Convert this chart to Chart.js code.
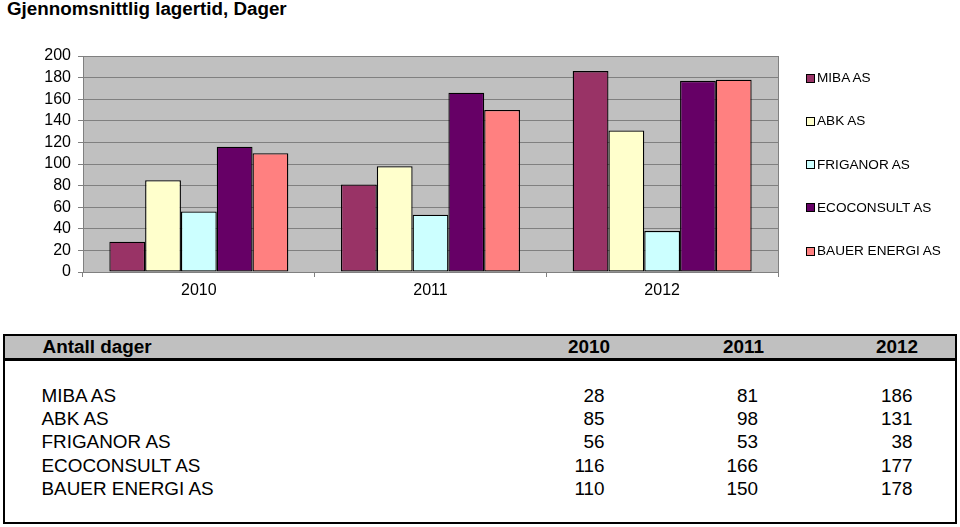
<!DOCTYPE html>
<html>
<head>
<meta charset="utf-8">
<script src="https://cdn.jsdelivr.net/npm/chart.js@4.4.1/dist/chart.umd.min.js"></script>
<style>
  html,body{margin:0;padding:0;background:#fff;}
  #wrap{position:relative;width:960px;height:527px;overflow:hidden;font-family:"Liberation Sans",Arial,Helvetica,sans-serif;color:#000;}
  #title{position:absolute;left:7px;top:-2.5px;font-weight:bold;font-size:18.8px;line-height:22px;white-space:nowrap;}
  #chart{position:absolute;left:0;top:0;}
  .legbox{position:absolute;width:7px;height:7px;border:1px solid #000;}
  .legtxt{position:absolute;font-size:13.6px;line-height:16px;white-space:nowrap;}
  .tbox{position:absolute;left:3px;top:334px;width:954px;height:190px;border:2px solid #000;box-sizing:border-box;}
  .thead{position:absolute;left:5px;top:336px;width:950px;height:22px;background:#c0c0c0;}
  .tline{position:absolute;left:3px;top:358px;width:954px;height:3px;background:#000;}
  .tt{position:absolute;font-size:18.9px;line-height:22px;white-space:nowrap;}
  .tb{font-weight:bold;}
  .tr{text-align:right;width:120px;}
</style>
</head>
<body>
<div id="wrap">
  <div id="title"></div>
  <canvas id="chart" width="960" height="310"></canvas>
  <div id="legend"></div>
  <div class="tbox"></div>
  <div class="thead"></div>
  <div class="tline"></div>
  <div id="table"></div>
</div>
<script>
// ---- data ----
const chartTitle = 'Gjennomsnittlig lagertid, Dager';
const years = ['2010', '2011', '2012'];
const companies = ['MIBA AS', 'ABK AS', 'FRIGANOR AS', 'ECOCONSULT AS', 'BAUER ENERGI AS'];
const miba = [28, 81, 186];
const abk = [85, 98, 131];
const friganor = [56, 53, 38];
const ecoconsult = [116, 166, 177];
const bauer = [110, 150, 178];
const yTicks = [0, 20, 40, 60, 80, 100, 120, 140, 160, 180, 200];
const tableHeader = 'Antall dager';

// ---- styles ----
const seriesValues = [miba, abk, friganor, ecoconsult, bauer];
const seriesColors = ['#993366', '#FFFFCC', '#CCFFFF', '#660066', '#FF8080'];
const FONT = '"Liberation Sans", Arial, Helvetica, sans-serif';

document.getElementById('title').textContent = chartTitle;

const plotBg = {
  id: 'plotBg',
  beforeDraw(chart) {
    const {ctx, chartArea: {left, top, right, bottom}} = chart;
    ctx.save();
    ctx.fillStyle = '#C0C0C0';
    ctx.fillRect(left, top, right - left, bottom - top);
    ctx.strokeStyle = '#808080';
    ctx.lineWidth = 1;
    ctx.beginPath();
    ctx.moveTo(Math.round(right) + 0.5, top);
    ctx.lineTo(Math.round(right) + 0.5, bottom);
    ctx.stroke();
    ctx.restore();
  }
};

new Chart(document.getElementById('chart'), {
  type: 'bar',
  data: {
    labels: years,
    datasets: companies.map((name, i) => ({
      label: name,
      data: seriesValues[i],
      backgroundColor: seriesColors[i],
      borderColor: '#000',
      borderWidth: 1.3,
      borderSkipped: false,
      categoryPercentage: 0.7726,
      barPercentage: 1.0
    }))
  },
  options: {
    responsive: false,
    animation: false,
    events: [],
    layout: {padding: {top: 56, left: 10, right: 182, bottom: 0}},
    plugins: {
      legend: {display: false},
      tooltip: {enabled: false},
      title: {display: false}
    },
    scales: {
      x: {
        grid: {display: true, drawOnChartArea: false, drawTicks: true, tickLength: 5, color: '#808080', offset: true},
        border: {display: true, color: '#808080'},
        ticks: {color: '#000', font: {family: FONT, size: 16}, padding: 4, maxRotation: 0},
        afterFit(s) { s.height = 38; }
      },
      y: {
        min: 0, max: 200,
        afterBuildTicks(s) { s.ticks = yTicks.map(v => ({value: v})); },
        grid: {color: '#808080', tickLength: 5, drawTicks: true},
        border: {display: true, color: '#808080'},
        ticks: {color: '#000', font: {family: FONT, size: 16}, padding: 7, autoSkip: false},
        afterFit(s) { s.width = 73; }
      }
    }
  },
  plugins: [plotBg]
});

// ---- legend (HTML) ----
const legend = document.getElementById('legend');
companies.forEach((name, i) => {
  const cy = 78 + i * 43.25;
  const b = document.createElement('div');
  b.className = 'legbox';
  b.style.left = '806px';
  b.style.top = (cy - 4.5) + 'px';
  b.style.background = seriesColors[i];
  legend.appendChild(b);
  const t = document.createElement('div');
  t.className = 'legtxt';
  t.style.left = '817px';
  t.style.top = (cy - 8) + 'px';
  t.textContent = name;
  legend.appendChild(t);
});

// ---- table (HTML) ----
const table = document.getElementById('table');
function addText(txt, x, cy, bold, right) {
  const d = document.createElement('div');
  d.className = 'tt' + (bold ? ' tb' : '') + (right ? ' tr' : '');
  d.style.left = (right ? x - 120 : x) + 'px';
  d.style.top = (cy - 11) + 'px';
  d.textContent = txt;
  table.appendChild(d);
}
const headRight = [610, 764, 918];
const numRight = [604.5, 758, 912.5];
addText(tableHeader, 42.5, 346.7, true, false);
years.forEach((y, j) => addText(y, headRight[j], 346.7, true, true));
companies.forEach((name, i) => {
  const cy = 396 + i * 23.2;
  addText(name, 41.5, cy, false, false);
  seriesValues[i].forEach((v, j) => addText(String(v), numRight[j], cy, false, true));
});
</script>
</body>
</html>
